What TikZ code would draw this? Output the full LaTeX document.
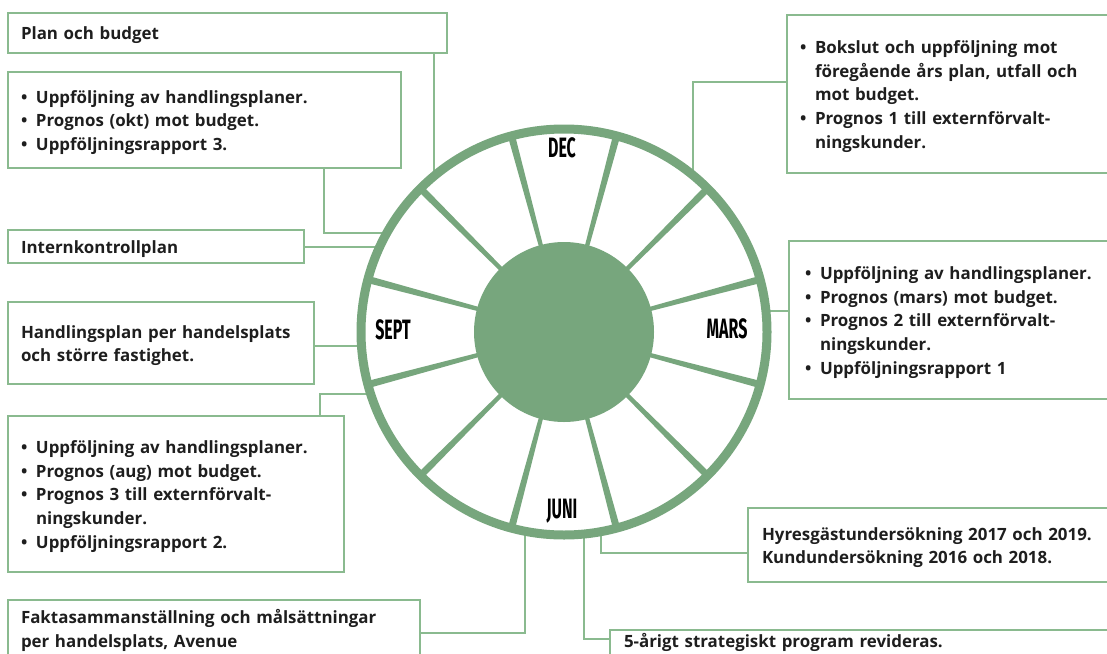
\documentclass[tikz,border=0pt]{standalone}
\usepackage{fontspec}
\setmainfont{Open Sans}
\newfontfamily\monthfont{Fira Sans}[FakeStretch=0.57]
\definecolor{wheelgreen}{HTML}{77A67D}
\definecolor{linegreen}{HTML}{8ABA8F}
\definecolor{txt}{HTML}{1E1E1E}
\newcommand{\bul}{\makebox[15pt][l]{•}}
\newcommand{\ind}{\hspace*{15pt}}
\newcommand{\topstrut}{\rule{0pt}{17.8pt}}
\tikzset{
  box/.style={draw=linegreen, line width=1.3pt, anchor=north west, outer sep=0pt,
    inner ysep=0pt, align=left, text=txt,
    font=\fontsize{16.9}{23.7}\selectfont\bfseries},
  conn/.style={draw=linegreen, line width=1.3pt},
  month/.style={font=\monthfont\fontsize{28}{28}\selectfont\bfseries, text=black, inner sep=0pt}
}
\begin{document}
\begin{tikzpicture}[x=1pt,y=-1pt]
\useasboundingbox (0,0) rectangle (1107,653);
\clip (0,0) rectangle (1107,653);
\coordinate (C) at (564,332);
% boxes
\node[box, inner xsep=13pt, minimum width=439pt, minimum height=40pt, text width=413pt] (B1) at (8,13) {\topstrut Plan och budget};
\node[box, inner xsep=13pt, minimum width=393pt, minimum height=96pt, text width=367pt] (B2) at (8,72)
  {\topstrut\bul Uppföljning av handlingsplaner.\\\bul Prognos (okt) mot budget.\\\bul Uppföljningsrapport 3.};
\node[box, inner xsep=13pt, minimum width=296pt, minimum height=33pt, text width=270pt] (B3) at (8,230) {\topstrut Internkontrollplan};
\node[box, inner xsep=13pt, minimum width=306pt, minimum height=82pt, text width=280pt] (B4) at (8,302)
  {\topstrut Handlingsplan per handelsplats\\och större fastighet.};
\node[box, inner xsep=13pt, minimum width=336pt, minimum height=156pt, text width=310pt] (B5) at (8,416)
  {\topstrut\bul Uppföljning av handlingsplaner.\\\bul Prognos (aug) mot budget.\\\bul Prognos 3 till externförvalt-\\\ind ningskunder.\\\bul Uppföljningsrapport 2.};
\node[box, inner xsep=13pt, minimum width=412pt, minimum height=57pt, text width=386pt] (B6) at (8,600)
  {\topstrut Faktasammanställning och målsättningar\\per handelsplats, Avenue};
\node[box, inner xsep=13pt, minimum width=343pt, minimum height=158pt, text width=317pt] (B7) at (787,15)
  {\topstrut\bul Bokslut och uppföljning mot\\\ind föregående års plan, utfall och\\\ind mot budget.\\\bul Prognos 1 till externförvalt-\\\ind ningskunder.};
\node[box, inner xsep=16pt, minimum width=341pt, minimum height=158pt, text width=309pt] (B8) at (789,241)
  {\topstrut\bul Uppföljning av handlingsplaner.\\\bul Prognos (mars) mot budget.\\\bul Prognos 2 till externförvalt-\\\ind ningskunder.\\\bul Uppföljningsrapport 1};
\node[box, inner xsep=14pt, minimum width=382pt, minimum height=74pt, text width=354pt] (B9) at (748,508)
  {\topstrut Hyresgästundersökning 2017 och 2019.\\Kundundersökning 2016 och 2018.};
\node[box, inner xsep=14pt, minimum width=520pt, minimum height=25pt, text width=492pt] (B10) at (610,630)
  {5-årigt strategiskt program revideras.};
% connector points
\coordinate (c1) at (434,180);
\coordinate (k2) at (324,233); \coordinate (c2) at (390,233);
\coordinate (c3) at (383,247);
\coordinate (c4) at (364,346);
\coordinate (k5) at (320,394); \coordinate (c5) at (374,394);
\coordinate (k6) at (525,633); \coordinate (c6) at (525,528);
\coordinate (k7) at (584,639); \coordinate (c7) at (584,531);
\coordinate (k8) at (601,553); \coordinate (c8) at (601,528);
\coordinate (c9) at (763,311);
\coordinate (k10) at (693,82); \coordinate (c10) at (693,179);
\draw[conn] (B1.south -| c1) -- (c1);
\draw[conn] (B2.south -| k2) -- (k2) -- (c2);
\draw[conn] (B3.east |- c3) -- (c3);
\draw[conn] (B4.east |- c4) -- (c4);
\draw[conn] (B5.north -| k5) -- (k5) -- (c5);
\draw[conn] (B6.east |- k6) -- (k6) -- (c6);
\draw[conn] (B10.west |- k7) -- (k7) -- (c7);
\draw[conn] (B9.west |- k8) -- (k8) -- (c8);
\draw[conn] (B8.west |- c9) -- (c9);
\draw[conn] (B7.west |- k10) -- (k10) -- (c10);
% wheel
\fill[white] (C) circle[radius=199];
\foreach \a in {15,45,...,345}{
  \begin{scope}[shift={(C)}, rotate=\a]
    \fill[wheelgreen] (86,-2.1) -- (205,-3.6) -- (205,3.6) -- (86,2.1) -- cycle;
  \end{scope}
}
\draw[wheelgreen, line width=9pt] (C) circle[radius=203];
\fill[wheelgreen] (C) circle[radius=90];
\node[month] (dec) at (562,148) {DEC};
\node[month] (sept) at (393,330) {SEPT};
\node[month] (mars) at (727,329) {MARS};
\node[month] (juni) at (562,511) {JUNI};
\end{tikzpicture}
\end{document}
